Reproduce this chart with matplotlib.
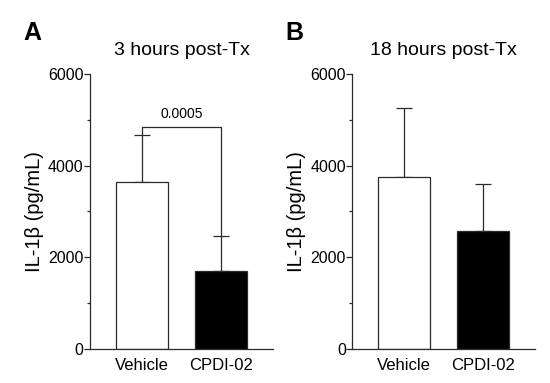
import matplotlib
matplotlib.use("Agg")
import matplotlib.pyplot as plt
from matplotlib.ticker import MultipleLocator

plt.rcParams["font.family"] = ["Liberation Sans", "DejaVu Sans"]

groups = ["Vehicle", "CPDI-02"]
colors = ["white", "black"]

# panel A: 3 hours post-Tx
mean_3h = [3650, 1710]
err_3h = [1020, 765]
p_3h = "0.0005"

# panel B: 18 hours post-Tx
mean_18h = [3745, 2575]
err_18h = [1505, 1025]

fig = plt.figure(figsize=(5.5, 3.83), dpi=100)
axA = fig.add_axes([0.1636, 0.0888, 0.3328, 0.718])
axB = fig.add_axes([0.6405, 0.0888, 0.3322, 0.718])

ec = "#2a2a2a"


def draw(ax, means, errs, title, letter):
    x = range(len(groups))
    ax.bar(x, means, width=0.656, color=colors, edgecolor=ec, linewidth=0.9, zorder=2)
    for xi, m, e in zip(x, means, errs):
        ax.errorbar(xi, m, yerr=[[0], [e]], fmt="none", ecolor=ec,
                    elinewidth=0.9, capsize=6, capthick=0.9, zorder=1)
    ax.set_xlim(-0.652, 1.656)
    ax.set_ylim(0, 6000)
    ax.yaxis.set_major_locator(MultipleLocator(2000))
    ax.yaxis.set_minor_locator(MultipleLocator(1000))
    ax.set_xticks(list(x))
    ax.set_xticklabels(groups, fontsize=12)
    ax.tick_params(axis="x", length=0, pad=6.5)
    ax.tick_params(axis="y", which="major", length=4.5, width=0.9, labelsize=11.5, pad=0, colors=ec)
    ax.tick_params(axis="y", which="minor", length=2, width=0.9, colors=ec)
    for lab in ax.get_yticklabels() + ax.get_xticklabels():
        lab.set_color("black")
    for s in ["top", "right"]:
        ax.spines[s].set_visible(False)
    for s in ["left", "bottom"]:
        ax.spines[s].set_linewidth(0.9)
        ax.spines[s].set_color(ec)
    ax.set_ylabel("IL-1β (pg/mL)", fontsize=14.5, labelpad=3)
    ax.set_title(title, fontsize=14, pad=14)
    ax.text(-0.365, 1.15, letter, transform=ax.transAxes, fontsize=18,
            fontweight="bold", ha="left", va="center")


draw(axA, mean_3h, err_3h, "3 hours post-Tx", "A")
draw(axB, mean_18h, err_18h, "18 hours post-Tx", "B")

# significance bracket on panel A
top0 = mean_3h[0] + err_3h[0]
top1 = mean_3h[1] + err_3h[1]
yb = 4850
axA.plot([0, 0, 1, 1], [top0, yb, yb, top1], color=ec, lw=0.9)
axA.text(0.5, yb + 120, p_3h, ha="center", va="bottom", fontsize=10)

fig.savefig("out.png", dpi=100)
